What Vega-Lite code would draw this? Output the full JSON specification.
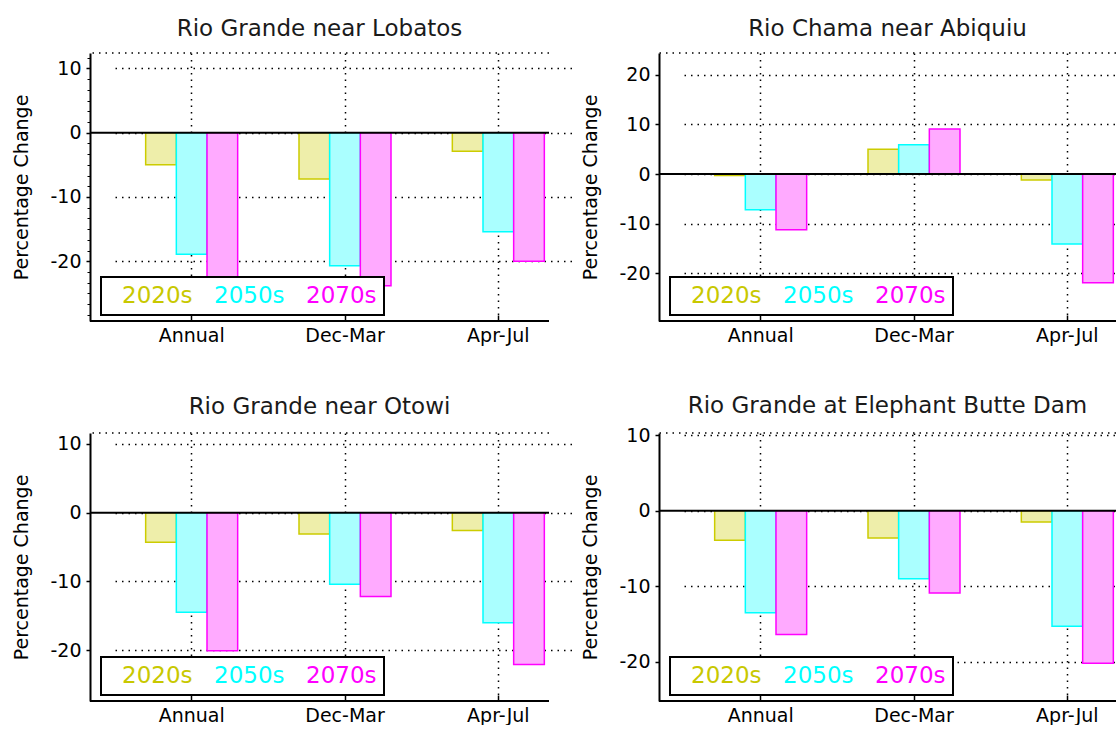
{
  "$schema": "https://vega.github.io/schema/vega-lite/v6.json",
  "background": "white",
  "padding": {"left": 12, "top": 17, "right": 0, "bottom": 0},
  "config": {
    "font": "DejaVu Sans",
    "view": {"stroke": null},
    "axis": {
      "labelFont": "DejaVu Sans", "titleFont": "DejaVu Sans", "labelColor": "black", "titleColor": "black",
      "titleFontWeight": "normal", "gridColor": "black", "gridDash": [1.5, 5], "gridWidth": 1.5, "gridOpacity": 1,
      "tickColor": "black", "domainColor": "black", "zindex": 1
    },
    "axisY": {"labelFontSize": 19, "titleFontSize": 19, "tickSize": 4, "labelPadding": 5, "titlePadding": 18, "domainWidth": 2, "tickWidth": 1.5},
    "axisX": {"labelFontSize": 19, "domain": false, "tickSize": -6, "tickWidth": 1.5, "labelPadding": 11, "title": null, "labelAngle": 0},
    "title": {"font": "DejaVu Sans", "fontSize": 23, "fontWeight": "normal", "color": "#1a1a1a", "offset": 11.5, "frame": "group", "baseline": "alphabetic"},
    "legend": {
      "title": null, "orient": "none", "legendX": 11, "legendY": 224, "direction": "horizontal",
      "symbolSize": 0, "symbolOpacity": 0, "symbolStrokeWidth": 0,
      "labelFont": "DejaVu Sans", "labelFontSize": 23, "labelOffset": -9, "columnPadding": 7, "padding": 7,
      "strokeColor": "black", "strokeWidth": 2, "fillColor": "white", "zindex": 2
    }
  },
  "datasets": {
    "flow": [
      {"site": "Lobatos", "season": "Annual", "period": "2020s", "value": -5.0},
      {"site": "Lobatos", "season": "Annual", "period": "2050s", "value": -18.9},
      {"site": "Lobatos", "season": "Annual", "period": "2070s", "value": -23.0},
      {"site": "Lobatos", "season": "Dec-Mar", "period": "2020s", "value": -7.2},
      {"site": "Lobatos", "season": "Dec-Mar", "period": "2050s", "value": -20.7},
      {"site": "Lobatos", "season": "Dec-Mar", "period": "2070s", "value": -23.8},
      {"site": "Lobatos", "season": "Apr-Jul", "period": "2020s", "value": -2.9},
      {"site": "Lobatos", "season": "Apr-Jul", "period": "2050s", "value": -15.4},
      {"site": "Lobatos", "season": "Apr-Jul", "period": "2070s", "value": -20.0},
      {"site": "Abiquiu", "season": "Annual", "period": "2020s", "value": -0.3},
      {"site": "Abiquiu", "season": "Annual", "period": "2050s", "value": -7.2},
      {"site": "Abiquiu", "season": "Annual", "period": "2070s", "value": -11.2},
      {"site": "Abiquiu", "season": "Dec-Mar", "period": "2020s", "value": 5.0},
      {"site": "Abiquiu", "season": "Dec-Mar", "period": "2050s", "value": 5.9},
      {"site": "Abiquiu", "season": "Dec-Mar", "period": "2070s", "value": 9.1},
      {"site": "Abiquiu", "season": "Apr-Jul", "period": "2020s", "value": -1.2},
      {"site": "Abiquiu", "season": "Apr-Jul", "period": "2050s", "value": -14.1},
      {"site": "Abiquiu", "season": "Apr-Jul", "period": "2070s", "value": -21.9},
      {"site": "Otowi", "season": "Annual", "period": "2020s", "value": -4.3},
      {"site": "Otowi", "season": "Annual", "period": "2050s", "value": -14.5},
      {"site": "Otowi", "season": "Annual", "period": "2070s", "value": -20.1},
      {"site": "Otowi", "season": "Dec-Mar", "period": "2020s", "value": -3.1},
      {"site": "Otowi", "season": "Dec-Mar", "period": "2050s", "value": -10.4},
      {"site": "Otowi", "season": "Dec-Mar", "period": "2070s", "value": -12.2},
      {"site": "Otowi", "season": "Apr-Jul", "period": "2020s", "value": -2.6},
      {"site": "Otowi", "season": "Apr-Jul", "period": "2050s", "value": -16.0},
      {"site": "Otowi", "season": "Apr-Jul", "period": "2070s", "value": -22.1},
      {"site": "Elephant Butte", "season": "Annual", "period": "2020s", "value": -3.9},
      {"site": "Elephant Butte", "season": "Annual", "period": "2050s", "value": -13.5},
      {"site": "Elephant Butte", "season": "Annual", "period": "2070s", "value": -16.4},
      {"site": "Elephant Butte", "season": "Dec-Mar", "period": "2020s", "value": -3.6},
      {"site": "Elephant Butte", "season": "Dec-Mar", "period": "2050s", "value": -9.0},
      {"site": "Elephant Butte", "season": "Dec-Mar", "period": "2070s", "value": -10.9},
      {"site": "Elephant Butte", "season": "Apr-Jul", "period": "2020s", "value": -1.5},
      {"site": "Elephant Butte", "season": "Apr-Jul", "period": "2050s", "value": -15.3},
      {"site": "Elephant Butte", "season": "Apr-Jul", "period": "2070s", "value": -20.2}
    ]
  },
  "spacing": 49,
  "vconcat": [
    {
      "spacing": 31,
      "resolve": {"scale": {"color": "independent", "stroke": "independent", "y": "independent", "x": "independent"}, "legend": {"color": "independent"}},
      "hconcat": [
        {
          "width": 459, "height": 268,
          "title": "Rio Grande near Lobatos",
          "data": {"name": "flow"},
          "transform": [{"filter": "datum.site == 'Lobatos'"}],
          "resolve": {"axis": {"y": "independent"}},
          "layer": [
            {
              "mark": {"type": "bar", "strokeWidth": 1.5},
              "encoding": {
                "x": {"field": "season", "type": "nominal", "sort": ["Annual", "Dec-Mar", "Apr-Jul"], "scale": {"range": [25, 485], "paddingInner": 0, "paddingOuter": 0}, "axis": {"grid": true}},
                "xOffset": {"field": "period", "type": "nominal", "sort": ["2020s", "2050s", "2070s"], "scale": {"paddingInner": 0, "paddingOuter": 1}},
                "y": {"field": "value", "type": "quantitative", "scale": {"domain": [-29.3, 12.4], "nice": false, "zero": false},
                      "axis": {"title": "Percentage Change", "orient": "left", "values": [-20, -10, 0, 10], "labelExpr": "'' + datum.value"}},
                "color": {"field": "period", "type": "nominal", "scale": {"domain": ["2020s", "2050s", "2070s"], "range": ["#eeeeaa", "#aaffff", "#ffaaff"]},
                          "legend": {"labelColor": {"expr": "datum.value === '2020s' ? '#c8c800' : datum.value === '2050s' ? '#00ffff' : '#ff00ff'"}}},
                "stroke": {"field": "period", "type": "nominal", "scale": {"domain": ["2020s", "2050s", "2070s"], "range": ["#cccc00", "#00ffff", "#ff00ff"]}, "legend": null}
              }
            },
            {"data": {"values": [{}]}, "mark": {"type": "rule", "color": "black", "strokeWidth": 2}, "encoding": {"y": {"datum": 0, "axis": null}}},
            {"data": {"values": [{}]}, "mark": {"type": "rule", "color": "black", "strokeWidth": 2}, "encoding": {"y": {"datum": -29.3, "axis": null}}},
            {"data": {"values": [{}]}, "mark": {"type": "rule", "color": "black", "strokeWidth": 1.5, "strokeDash": [1.5, 5]},
             "encoding": {"y": {"datum": 12.4, "axis": {"orient": "left", "title": null, "labels": false, "grid": false, "domain": false, "tickSize": 3, "tickWidth": 1,
                                                        "values": [-28.333, -26.667, -25, -23.333, -21.667, -18.333, -16.667, -15, -13.333, -11.667, -8.333, -6.667, -5, -3.333, -1.667, 1.667, 3.333, 5, 6.667, 8.333, 11.667]}}}}
          ]
        },
        {
          "width": 457, "height": 268,
          "title": "Rio Chama near Abiquiu",
          "data": {"name": "flow"},
          "transform": [{"filter": "datum.site == 'Abiquiu'"}],
          "layer": [
            {
              "mark": {"type": "bar", "strokeWidth": 1.5},
              "encoding": {
                "x": {"field": "season", "type": "nominal", "sort": ["Annual", "Dec-Mar", "Apr-Jul"], "scale": {"range": [25, 485], "paddingInner": 0, "paddingOuter": 0}, "axis": {"grid": true}},
                "xOffset": {"field": "period", "type": "nominal", "sort": ["2020s", "2050s", "2070s"], "scale": {"paddingInner": 0, "paddingOuter": 1}},
                "y": {"field": "value", "type": "quantitative", "scale": {"domain": [-29.6, 24.4], "nice": false, "zero": false}, "axis": {"title": "Percentage Change", "values": [-20, -10, 0, 10, 20], "labelExpr": "'' + datum.value"}},
                "color": {"field": "period", "type": "nominal", "scale": {"domain": ["2020s", "2050s", "2070s"], "range": ["#eeeeaa", "#aaffff", "#ffaaff"]},
                          "legend": {"labelColor": {"expr": "datum.value === '2020s' ? '#c8c800' : datum.value === '2050s' ? '#00ffff' : '#ff00ff'"}}},
                "stroke": {"field": "period", "type": "nominal", "scale": {"domain": ["2020s", "2050s", "2070s"], "range": ["#cccc00", "#00ffff", "#ff00ff"]}, "legend": null}
              }
            },
            {"data": {"values": [{}]}, "mark": {"type": "rule", "color": "black", "strokeWidth": 2}, "encoding": {"y": {"datum": 0}}},
            {"data": {"values": [{}]}, "mark": {"type": "rule", "color": "black", "strokeWidth": 2}, "encoding": {"y": {"datum": -29.6}}},
            {"data": {"values": [{}]}, "mark": {"type": "rule", "color": "black", "strokeWidth": 1.5, "strokeDash": [1.5, 5]}, "encoding": {"y": {"datum": 24.4}}}
          ]
        }
      ]
    },
    {
      "spacing": 31,
      "resolve": {"scale": {"color": "independent", "stroke": "independent", "y": "independent", "x": "independent"}, "legend": {"color": "independent"}},
      "hconcat": [
        {
          "width": 459, "height": 268,
          "title": {"text": "Rio Grande near Otowi", "offset": 13.5},
          "data": {"name": "flow"},
          "transform": [{"filter": "datum.site == 'Otowi'"}],
          "layer": [
            {
              "mark": {"type": "bar", "strokeWidth": 1.5},
              "encoding": {
                "x": {"field": "season", "type": "nominal", "sort": ["Annual", "Dec-Mar", "Apr-Jul"], "scale": {"range": [25, 485], "paddingInner": 0, "paddingOuter": 0}, "axis": {"grid": true}},
                "xOffset": {"field": "period", "type": "nominal", "sort": ["2020s", "2050s", "2070s"], "scale": {"paddingInner": 0, "paddingOuter": 1}},
                "y": {"field": "value", "type": "quantitative", "scale": {"domain": [-27.4, 11.6], "nice": false, "zero": false}, "axis": {"title": "Percentage Change", "values": [-20, -10, 0, 10], "labelExpr": "'' + datum.value"}},
                "color": {"field": "period", "type": "nominal", "scale": {"domain": ["2020s", "2050s", "2070s"], "range": ["#eeeeaa", "#aaffff", "#ffaaff"]},
                          "legend": {"labelColor": {"expr": "datum.value === '2020s' ? '#c8c800' : datum.value === '2050s' ? '#00ffff' : '#ff00ff'"}}},
                "stroke": {"field": "period", "type": "nominal", "scale": {"domain": ["2020s", "2050s", "2070s"], "range": ["#cccc00", "#00ffff", "#ff00ff"]}, "legend": null}
              }
            },
            {"data": {"values": [{}]}, "mark": {"type": "rule", "color": "black", "strokeWidth": 2}, "encoding": {"y": {"datum": 0}}},
            {"data": {"values": [{}]}, "mark": {"type": "rule", "color": "black", "strokeWidth": 2}, "encoding": {"y": {"datum": -27.4}}},
            {"data": {"values": [{}]}, "mark": {"type": "rule", "color": "black", "strokeWidth": 1.5, "strokeDash": [1.5, 5]}, "encoding": {"y": {"datum": 11.6}}}
          ]
        },
        {
          "width": 457, "height": 268,
          "title": {"text": "Rio Grande at Elephant Butte Dam", "offset": 8.5},
          "data": {"name": "flow"},
          "transform": [{"filter": "datum.site == 'Elephant Butte'"}],
          "layer": [
            {
              "mark": {"type": "bar", "strokeWidth": 1.5},
              "encoding": {
                "x": {"field": "season", "type": "nominal", "sort": ["Annual", "Dec-Mar", "Apr-Jul"], "scale": {"range": [25, 485], "paddingInner": 0, "paddingOuter": 0}, "axis": {"grid": true}},
                "xOffset": {"field": "period", "type": "nominal", "sort": ["2020s", "2050s", "2070s"], "scale": {"paddingInner": 0, "paddingOuter": 1}},
                "y": {"field": "value", "type": "quantitative", "scale": {"domain": [-25.2, 10.3], "nice": false, "zero": false}, "axis": {"title": "Percentage Change", "values": [-20, -10, 0, 10], "labelExpr": "'' + datum.value"}},
                "color": {"field": "period", "type": "nominal", "scale": {"domain": ["2020s", "2050s", "2070s"], "range": ["#eeeeaa", "#aaffff", "#ffaaff"]},
                          "legend": {"labelColor": {"expr": "datum.value === '2020s' ? '#c8c800' : datum.value === '2050s' ? '#00ffff' : '#ff00ff'"}}},
                "stroke": {"field": "period", "type": "nominal", "scale": {"domain": ["2020s", "2050s", "2070s"], "range": ["#cccc00", "#00ffff", "#ff00ff"]}, "legend": null}
              }
            },
            {"data": {"values": [{}]}, "mark": {"type": "rule", "color": "black", "strokeWidth": 2}, "encoding": {"y": {"datum": 0}}},
            {"data": {"values": [{}]}, "mark": {"type": "rule", "color": "black", "strokeWidth": 2}, "encoding": {"y": {"datum": -25.2}}},
            {"data": {"values": [{}]}, "mark": {"type": "rule", "color": "black", "strokeWidth": 1.5, "strokeDash": [1.5, 5]}, "encoding": {"y": {"datum": 10.3}}}
          ]
        }
      ]
    }
  ]
}
